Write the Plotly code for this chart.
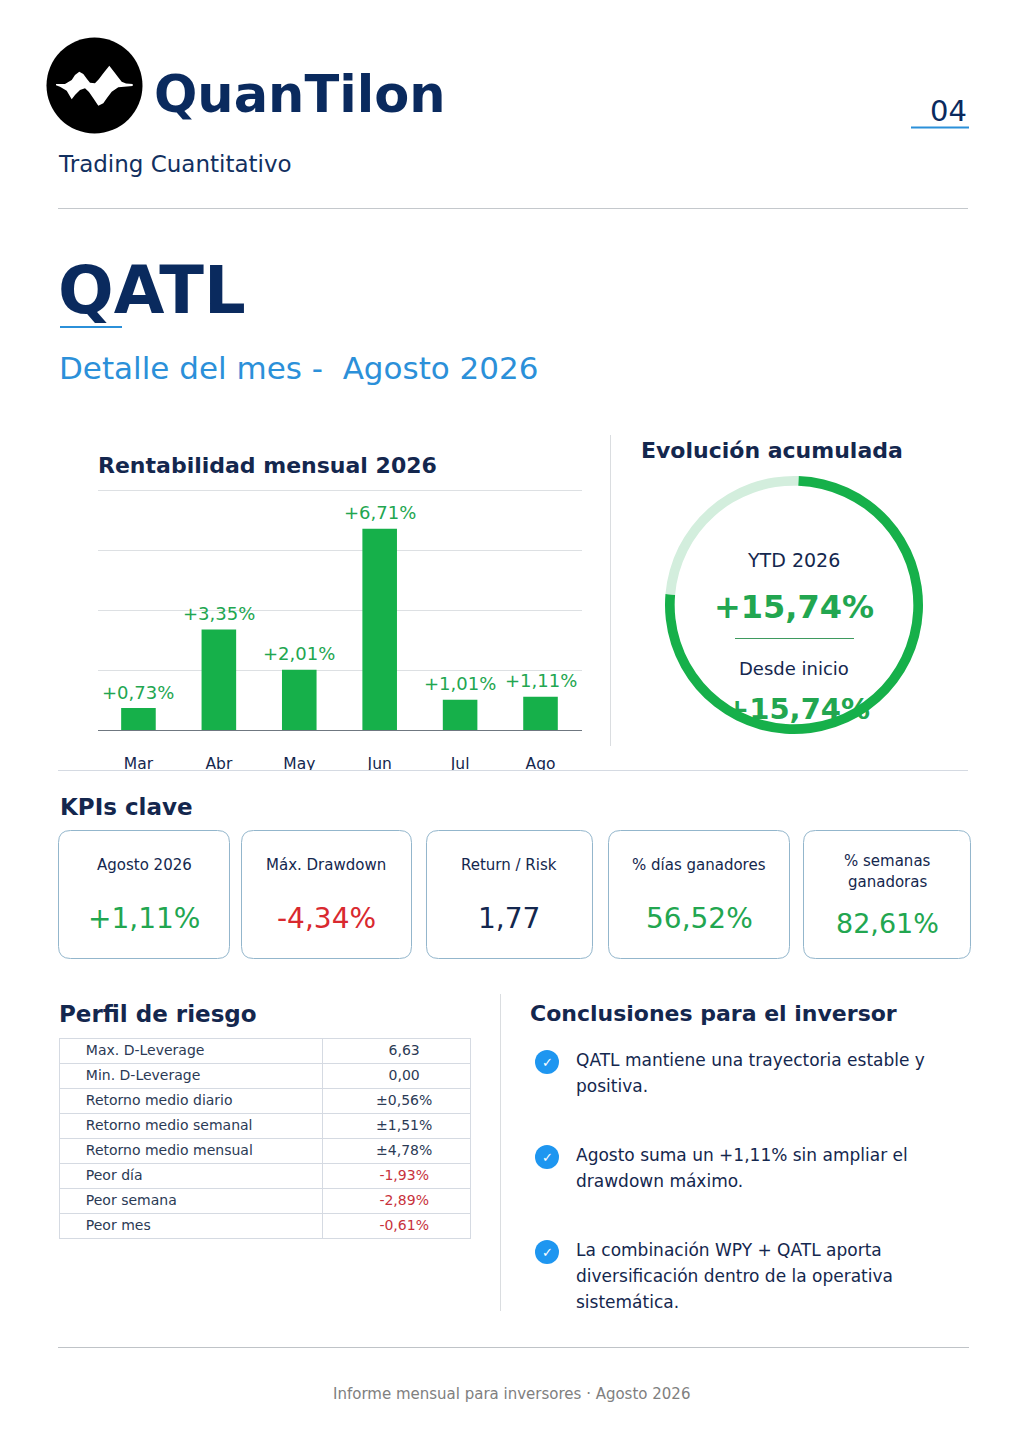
import plotly.graph_objects as go

W, H = 1024, 1448
FONT = "DejaVu Sans"
NAVY = "#0A2A5E"
INK = "#14274E"
GREEN = "#16B04A"
GREEN_TXT = "#22A650"
RED = "#D9292F"
BLUE = "#2B90D9"

# --- Data ---
months = ["Mar", "Abr", "May", "Jun", "Jul", "Ago"]
monthly_returns = [0.73, 3.35, 2.01, 6.71, 1.01, 1.11]
monthly_labels = ["+0,73%", "+3,35%", "+2,01%", "+6,71%", "+1,01%", "+1,11%"]
grid_vals = [0, 2, 4, 6, 8]

ring_parts = [75.8, 24.2]
ring_colors = [GREEN, "#D3EEDD"]

kpi_names = ["Agosto 2026", "Máx. Drawdown", "Return / Risk", "% días ganadores"]
kpi_values = ["+1,11%", "-4,34%", "1,77", "56,52%"]
kpi_colors = [GREEN_TXT, RED, INK, GREEN_TXT]

risk_names = ["Max. D-Leverage", "Min. D-Leverage", "Retorno medio diario", "Retorno medio semanal",
              "Retorno medio mensual", "Peor día", "Peor semana", "Peor mes"]
risk_values = ["6,63", "0,00", "±0,56%", "±1,51%", "±4,78%", "-1,93%", "-2,89%", "-0,61%"]
risk_colors = ["#2B3A55"] * 5 + ["#C8323C"] * 3

conclusions = [
    ["QATL mantiene una trayectoria estable y", "positiva."],
    ["Agosto suma un +1,11% sin ampliar el", "drawdown máximo."],
    ["La combinación WPY + QATL aporta", "diversificación dentro de la operativa", "sistemática."],
]

def px(x):
    return x / W

def py(y):
    return 1 - y / H

annotations = []
shapes = []

def text(x, y, s, size, color=INK, bold=False, anchor="left"):
    annotations.append(dict(
        x=px(x), y=py(y), xref="paper", yref="paper", text=f"<b>{s}</b>" if bold else s,
        showarrow=False, xanchor=anchor, yanchor="middle", borderpad=0, borderwidth=0,
        font=dict(family=FONT, size=size, color=color),
    ))

def rule(x0, y0, x1, y1, color, width=1):
    shapes.append(dict(type="line", xref="paper", yref="paper", x0=px(x0), y0=py(y0), x1=px(x1), y1=py(y1),
                       line=dict(color=color, width=width)))

def disc(cx, cy, r, color):
    shapes.append(dict(type="circle", xref="paper", yref="paper", x0=px(cx - r), y0=py(cy - r), x1=px(cx + r), y1=py(cy + r),
                       fillcolor=color, line=dict(width=0)))

def poly(points, color):
    d = "M " + " L ".join(f"{px(x):.5f},{py(y):.5f}" for x, y in points) + " Z"
    shapes.append(dict(type="path", xref="paper", yref="paper", path=d, fillcolor=color, line=dict(width=0)))

def card(x0, x1, y0=830.5, y1=958.5, r=12, color="#93B6CC"):
    p = lambda x, y: f"{px(x):.5f},{py(y):.5f}"
    d = (f"M {p(x0 + r, y0)} L {p(x1 - r, y0)} Q {p(x1, y0)} {p(x1, y0 + r)} L {p(x1, y1 - r)} Q {p(x1, y1)} {p(x1 - r, y1)} "
         f"L {p(x0 + r, y1)} Q {p(x0, y1)} {p(x0, y1 - r)} L {p(x0, y0 + r)} Q {p(x0, y0)} {p(x0 + r, y0)} Z")
    shapes.append(dict(type="path", xref="paper", yref="paper", path=d, line=dict(color=color, width=1)))

# --- Header ---
disc(94.5, 85.5, 48, "#000000")
poly([(56, 84), (65, 84), (71.7, 80), (75, 75), (79.3, 71.7), (83.3, 74), (87, 79), (90, 82.7), (95, 83.3), (99, 79),
      (103.3, 73.3), (109.3, 65.7), (114, 71.7), (118, 77), (121.7, 81.7), (126, 83.5), (132.7, 84), (132.7, 86),
      (118.3, 87.3), (111.7, 91.7), (107, 98), (103.3, 103.3), (98.3, 105.7), (93.3, 98.3), (89, 92), (85, 88.3),
      (80, 90), (75, 95), (71.7, 99.3), (66.7, 90.7), (60, 86.7), (56, 85.3)], "#FFFFFF")
text(154, 94.5, "QuanTilon", 51, NAVY, bold=True)
text(58, 164, "Trading Cuantitativo", 23, "#12305F")
text(948, 111, "04", 29, NAVY, anchor="center")
rule(911, 127.5, 969, 127.5, BLUE, 2)
rule(58, 208.5, 968, 208.5, "#C4C8CC")

text(58, 290, "QATL", 65.5, NAVY, bold=True)
rule(60, 327, 122, 327, BLUE, 2)
text(58.5, 368, "Detalle del mes -\u00a0 Agosto 2026", 31, BLUE)

# --- Bar chart section ---
text(98, 465, "Rentabilidad mensual 2026", 22, INK, bold=True)
rule(610.5, 435, 610.5, 746, "#DADDE0")
text(641, 450.5, "Evolución acumulada", 22, INK, bold=True)

for m, v, lab in zip(months, monthly_returns, monthly_labels):
    annotations.append(dict(x=m, y=v, xref="x", yref="y", text=lab, showarrow=False, yanchor="middle", yshift=16,
                            borderpad=0, borderwidth=0, font=dict(family=FONT, size=18, color=GREEN_TXT)))

# tick labels are cut off at the section line in the original
shapes.append(dict(type="rect", xref="paper", yref="paper", x0=px(90), x1=px(600), y0=py(771), y1=py(790),
                   fillcolor="#FFFFFF", line=dict(width=0)))
rule(58, 770.5, 968, 770.5, "#D5DAE2")

# --- Ring texts ---
text(793, 560, "YTD 2026", 19, INK, anchor="center")
text(794, 607, "+15,74%", 32, GREEN_TXT, bold=True, anchor="center")
rule(735, 638.5, 854, 638.5, "#3E9A5E")
text(794, 668, "Desde inicio", 18, INK, anchor="center")

# --- KPIs ---
text(60, 807, "KPIs clave", 23, INK, bold=True)
for x0, x1 in [(58.5, 229.5), (241.5, 411.5), (426.5, 592.5), (608.5, 789.5), (803.5, 970.5)]:
    card(x0, x1)
for cx, name, val, col in zip([144, 326, 509, 699], kpi_names, kpi_values, kpi_colors):
    text(cx, 865, name, 15, INK, anchor="center")
    text(cx, 918, val, 28, col, anchor="center")
text(887, 861, "% semanas", 15, INK, anchor="center")
text(887, 882, "ganadoras", 15, INK, anchor="center")
text(887, 923, "82,61%", 27, GREEN_TXT, anchor="center")

# --- Risk profile + conclusions ---
text(59, 1014, "Perfil de riesgo", 23, INK, bold=True)
rule(500.5, 994, 500.5, 1311, "#DADDE0")
text(530, 1013, "Conclusiones para el inversor", 22, INK, bold=True)

# table grid
for i in range(len(risk_names) + 1):
    rule(59, 1038.5 + i * 25, 471, 1038.5 + i * 25, "#D5DAE2")
for x in [59.5, 322.5, 470.5]:
    rule(x, 1038, x, 1239, "#D5DAE2")

for cy, lines in zip([1062, 1157, 1252], conclusions):
    disc(547, cy, 12, "#1E96F0")
    text(547, cy, "✓", 13, "#FFFFFF", anchor="center")
    for i, line in enumerate(lines):
        text(576, cy - 1.7 + i * 26, line, 17, INK)

rule(58, 1347.5, 969, 1347.5, "#BFC3C7")
text(511, 1394, "Informe mensual para inversores · Agosto 2026", 15, "#808080", anchor="center")

# --- Figure ---
fig = go.Figure()

fig.add_trace(go.Bar(
    x=months, y=monthly_returns, marker=dict(color=GREEN, line=dict(width=0)),
    width=0.43, hoverinfo="skip", showlegend=False, xaxis="x", yaxis="y",
))

# second figure sits below the ring, so it goes in as a trace on a page-sized axis
fig.add_trace(go.Scatter(
    x=[797.5], y=[712], text=["<b>+15,74%</b>"], mode="text", textposition="middle center",
    textfont=dict(family=FONT, size=29, color=GREEN_TXT), hoverinfo="skip", showlegend=False,
    xaxis="x2", yaxis="y2", cliponaxis=False,
))

fig.add_trace(go.Pie(
    values=ring_parts, marker=dict(colors=ring_colors, line=dict(width=0)), hole=0.925, sort=False,
    direction="clockwise", rotation=2, textinfo="none", hoverinfo="skip", showlegend=False,
    domain=dict(x=[px(665), px(923)], y=[py(734), py(476)]),
))

fig.add_trace(go.Table(
    domain=dict(x=[px(60), px(472)], y=[py(1238), py(1036)]),
    columnwidth=[263, 149],
    header=dict(values=["", ""], height=0, line=dict(width=0), fill=dict(color="rgba(0,0,0,0)"), font=dict(size=1)),
    cells=dict(
        values=[["\u00a0\u00a0\u00a0\u00a0" + n for n in risk_names], ["\u00a0\u00a0\u00a0" + v for v in risk_values]],
        height=25, align=["left", "center"], line=dict(width=0), fill=dict(color="rgba(0,0,0,0)"),
        font=dict(family=FONT, size=14, color=["#2B3A55", risk_colors]),
    ),
))

fig.update_layout(
    width=W, height=H, margin=dict(l=0, r=0, t=0, b=0), paper_bgcolor="#FFFFFF", plot_bgcolor="rgba(0,0,0,0)",
    xaxis=dict(domain=[px(98), px(582)], anchor="y", categoryorder="array", categoryarray=months, range=[-0.503, 5.516],
               showgrid=False, ticks="", ticklabelstandoff=22, tickfont=dict(family=FONT, size=15.5, color=INK),
               fixedrange=True, showline=False, zeroline=False),
    yaxis=dict(domain=[py(730), py(488.5)], anchor="x", range=[0, 8.05], tickvals=grid_vals, showticklabels=False,
               gridcolor="#DDE0E3", gridwidth=1, zeroline=True, zerolinecolor="#6F7780", zerolinewidth=1, fixedrange=True),
    xaxis2=dict(domain=[0, 1], range=[0, W], anchor="y2", visible=False, fixedrange=True),
    yaxis2=dict(domain=[0, 1], range=[H, 0], anchor="x2", visible=False, fixedrange=True),
    annotations=annotations, shapes=shapes, showlegend=False,
)

fig.write_html("out.html", config=dict(displayModeBar=False),
               post_script="document.body.style.margin='0';document.body.style.overflow='hidden';")
